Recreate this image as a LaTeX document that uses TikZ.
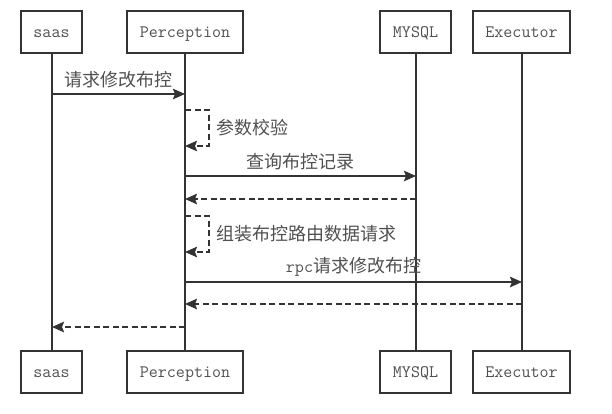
\documentclass[tikz,border=0pt]{standalone}
\usepackage{fontspec}
\newfontfamily\cjk{Noto Sans CJK SC}
\newfontfamily\lat{Latin Modern Mono}
\usetikzlibrary{arrows.meta}
\definecolor{ln}{HTML}{333333}
\definecolor{tx}{HTML}{505050}
\tikzset{
  actor/.style={draw=ln, line width=2pt, fill=white, minimum height=42pt, inner sep=0pt, text=tx, text height=12pt, text depth=2pt, font=\lat\fontsize{17.5}{18}\selectfont},
  life/.style={draw=ln, line width=2pt},
  msg/.style={draw=ln, line width=2pt, -{Stealth[length=12pt,width=10.5pt,inset=2pt]}},
  ret/.style={msg, dashed, dash pattern=on 6pt off 3.5pt},
  lbl/.style={text=tx, font=\cjk\fontsize{18}{19}\selectfont, inner sep=0pt},
}
\begin{document}
\begin{tikzpicture}[x=1pt,y=-1pt]
\useasboundingbox (0,0) rectangle (612,413);
% actors
\node[actor, minimum width=61pt]  (saasT) at (51.5,32) {saas};
\node[actor, minimum width=116pt] (percT) at (185,32) {Perception};
\node[actor, minimum width=71pt]  (mysqlT) at (415.5,32) {MYSQL};
\node[actor, minimum width=97pt]  (execT) at (521.5,32) {Executor};
\node[actor, minimum width=61pt]  (saasB) at (51.5,372) {saas};
\node[actor, minimum width=116pt] (percB) at (185,372) {Perception};
\node[actor, minimum width=71pt]  (mysqlB) at (415.5,372) {MYSQL};
\node[actor, minimum width=97pt]  (execB) at (521.5,372) {Executor};
% lifelines
\coordinate (sx) at (52,0);
\coordinate (px) at (185,0);
\coordinate (mx) at (416,0);
\coordinate (ex) at (522,0);
\draw[life] (sx |- saasT.south) -- (sx |- saasB.north);
\draw[life] (px |- percT.south) -- (px |- percB.north);
\draw[life] (mx |- mysqlT.south) -- (mx |- mysqlB.north);
\draw[life] (ex |- execT.south) -- (ex |- execB.north);
% message endpoints
\coordinate (m1a) at (52,94);   \coordinate (m1b) at (185,94);
\coordinate (l1a) at (185,110); \coordinate (l1b) at (185,146);
\coordinate (m2a) at (185,176); \coordinate (m2b) at (416,176);
\coordinate (m3a) at (416,199); \coordinate (m3b) at (185,199);
\coordinate (l2a) at (185,216); \coordinate (l2b) at (185,252);
\coordinate (m4a) at (185,282); \coordinate (m4b) at (522,282);
\coordinate (m5a) at (522,304); \coordinate (m5b) at (185,304);
\coordinate (m6a) at (185,327); \coordinate (m6b) at (52,327);
% messages
\draw[msg] (m1a) -- node[lbl, above=5pt] {请求修改布控} (m1b);
\draw[ret] (l1a) -- ++(24,0) |- node[lbl, pos=0.25, right=6pt] {参数校验} (l1b);
\draw[msg] (m2a) -- node[lbl, above=5pt] {查询布控记录} (m2b);
\draw[ret] (m3a) -- (m3b);
\draw[ret] (l2a) -- ++(24,0) |- node[lbl, pos=0.25, right=6pt] {组装布控路由数据请求} (l2b);
\draw[msg] (m4a) -- node[lbl, above=5pt] {{\lat\fontsize{17.5}{18}\selectfont rpc}请求修改布控} (m4b);
\draw[ret] (m5a) -- (m5b);
\draw[ret] (m6a) -- (m6b);
\end{tikzpicture}
\end{document}
